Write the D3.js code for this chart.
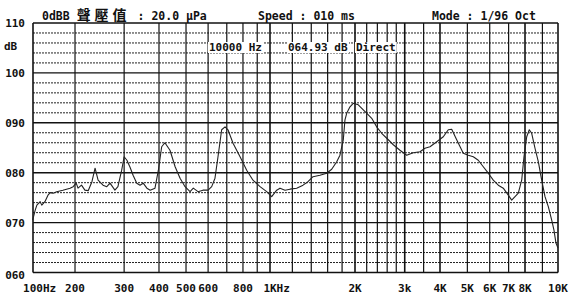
<!DOCTYPE html>
<html>
<head>
<meta charset="utf-8">
<script src="https://cdn.jsdelivr.net/npm/d3@7"></script>
<style>
body { margin: 0; background: #fff; }
text { font-family: "DejaVu Sans Mono", monospace; font-weight: bold; fill: #111; }
</style>
</head>
<body>
<div class="chart"></div>
<script>
// trace: frequency (Hz) / level (dB)
const freqs = [141, 144, 146, 150, 152, 156, 160, 163, 167, 172,
  181, 192, 197, 202, 205, 211, 217, 223, 230, 236,
  242, 252, 260, 267, 278, 285, 294, 300, 307, 315,
  323, 333, 342, 351, 362, 372, 387, 398, 409, 420,
  438, 457, 476, 496, 517, 531, 552, 575, 600, 618,
  635, 651, 671, 690, 707, 737, 781, 825, 869, 921,
  973, 1014, 1056, 1085, 1130, 1177, 1243, 1309, 1363, 1420,
  1503, 1588, 1654, 1723, 1769, 1818, 1843, 1869, 1920, 1972,
  2054, 2140, 2229, 2292, 2386, 2486, 2624, 2733, 2886, 3048,
  3217, 3398, 3539, 3687, 3894, 4109, 4280, 4400, 4583, 4836,
  5037, 5247, 5466, 5693, 5930, 6177, 6434, 6702, 6981, 7178,
  7374, 7575, 7787, 7934, 8093, 8236, 8370, 8560, 8753, 8956,
  9159, 9366, 9584, 9731, 9864, 10000];
const levels = [70.5, 72.5, 73.5, 74.2, 73.5, 74.2, 75.5, 76.0, 75.9, 76.2,
  76.5, 76.9, 77.2, 77.9, 76.9, 77.5, 76.5, 76.4, 78.2, 80.9,
  78.5, 77.5, 77.2, 77.9, 76.5, 77.2, 80.5, 83.2, 82.5, 81.1,
  79.5, 77.9, 77.5, 77.9, 76.9, 76.5, 76.9, 80.5, 85.2, 86.0,
  84.5, 81.2, 78.9, 77.2, 76.2, 76.9, 76.2, 76.5, 76.5, 77.2,
  78.9, 83.2, 88.6, 89.2, 88.6, 85.9, 83.2, 80.5, 78.5, 77.2,
  76.2, 75.2, 76.5, 76.9, 76.5, 76.7, 76.9, 77.5, 78.2, 79.2,
  79.5, 79.9, 80.7, 82.2, 83.5, 86.6, 90.6, 91.9, 93.2, 93.9,
  93.6, 92.6, 91.6, 90.9, 89.2, 87.9, 86.6, 85.6, 84.5, 83.5,
  84.0, 84.2, 84.9, 85.2, 86.2, 87.2, 88.6, 88.7, 86.6, 83.9,
  83.5, 83.2, 82.5, 81.2, 79.9, 78.5, 77.5, 76.9, 75.5, 74.5,
  75.2, 75.9, 78.5, 83.2, 87.2, 88.6, 87.9, 84.9, 82.2, 78.5,
  75.2, 73.2, 70.5, 68.5, 65.9, 64.9];

const fStart = 141.4;   // left edge of the printout (labelled 100Hz)
const gridFreqs = [200, 300, 400, 500, 600, 700, 800, 900, 1000, 1200, 1400, 1600, 1800,
  2000, 2200, 2400, 2600, 2800, 3000, 3500, 4000, 5000, 6000, 7000, 8000, 9000];
const xTickFreqs = [fStart, 200, 300, 400, 500, 600, 800, 1000, 2000, 3000, 4000, 5000, 6000, 7000, 8000, 10000];
const xTickLabels = ['100Hz', '200', '300', '400', '500', '600', '800', '1KHz', '2K', '3k', '4K', '5K', '6K', '7K', '8K', '10K'];
const yTicks = [110, 100, 90, 80, 70, 60];
const yTickLabels = ['110', '100', '090', '080', '070', '060'];

const width = 577, height = 308;
const svg = d3.select('.chart').append('svg')
    .attr('width', width)
    .attr('height', height);

// the printer's frequency axis is not quite one log scale, so piecewise
const x = d3.scaleLog().domain([fStart, 1000, 8000, 10000]).range([33, 270, 525, 558]);
const y = d3.scaleLinear().domain([60, 110]).range([272.5, 23]);

// dashed 2 dB lines
const minor = d3.range(62, 110, 2).filter(v => v % 10 != 0);
svg.selectAll('.minor')
    .data(minor)
    .enter()
    .append('line')
    .attr('x1', x(fStart)).attr('x2', x(10000))
    .attr('y1', d => y(d)).attr('y2', d => y(d))
    .attr('stroke', '#222')
    .attr('stroke-width', 1)
    .attr('stroke-dasharray', '2,1')

// solid 10 dB lines
svg.selectAll('.major')
    .data(yTicks)
    .enter()
    .append('line')
    .attr('x1', x(fStart)).attr('x2', x(10000))
    .attr('y1', d => y(d)).attr('y2', d => y(d))
    .attr('stroke', '#111')
    .attr('stroke-width', 1.4)

// vertical frequency lines
svg.selectAll('.vgrid')
    .data([fStart].concat(gridFreqs, [10000]))
    .enter()
    .append('line')
    .attr('x1', d => x(d)).attr('x2', d => x(d))
    .attr('y1', y(110)).attr('y2', y(60))
    .attr('stroke', '#111')
    .attr('stroke-width', d => [fStart, 1000, 2000, 3000, 4000, 8000, 10000].includes(d) ? 1.6 : 1.2)

// response trace
const line = d3.line()
    .x(d => x(d[0]))
    .y(d => y(d[1]));
svg.append('path')
    .datum(d3.zip(freqs, levels))
    .attr('d', line)
    .attr('fill', 'none')
    .attr('stroke', '#222')
    .attr('stroke-width', 1.1)
    .attr('stroke-linejoin', 'round')

// y labels
svg.selectAll('.ylab')
    .data(yTicks)
    .enter()
    .append('text')
    .attr('x', 25)
    .attr('y', (d, i) => y(d) + 4 + (d == 60 ? 2 : 0))
    .attr('text-anchor', 'end')
    .attr('font-size', 11)
    .text((d, i) => yTickLabels[i]);
svg.append('text').attr('x', 4).attr('y', 50).attr('font-size', 11).text('dB');

// x labels: numeric part centred on its line
const charW = 11 * 0.602;
svg.selectAll('.xlab')
    .data(xTickFreqs)
    .enter()
    .append('text')
    .attr('x', (d, i) => {
        const lab = xTickLabels[i];
        const core = lab.replace('Hz', '');
        return x(d) - core.length * charW / 2;
    })
    .attr('y', 292)
    .attr('font-size', 11)
    .text((d, i) => xTickLabels[i]);

// header
svg.append('text').attr('x', 42).attr('y', 20).attr('font-size', 11.5)
    .html('0dBB <tspan font-family="Noto Sans CJK TC" font-size="14" letter-spacing="4">聲壓值</tspan> : 20.0 μPa');
svg.append('text').attr('x', 258).attr('y', 20).attr('font-size', 11.5).text('Speed : 010 ms');
svg.append('text').attr('x', 432).attr('y', 20).attr('font-size', 11.5).text('Mode : 1/96 Oct');

// cursor readout with white boxes behind the words
[['10000 Hz', 209], ['064.93 dB', 288], ['Direct', 356]].forEach(([s, px]) => {
    const t = svg.append('text').attr('x', px).attr('y', 51).attr('font-size', 11).text(s);
    const b = t.node().getBBox();
    svg.insert('rect', () => t.node())
        .attr('x', b.x - 1).attr('y', b.y + 1)
        .attr('width', b.width + 2).attr('height', b.height - 2)
        .attr('fill', '#fff');
});
</script>
</body>
</html>
